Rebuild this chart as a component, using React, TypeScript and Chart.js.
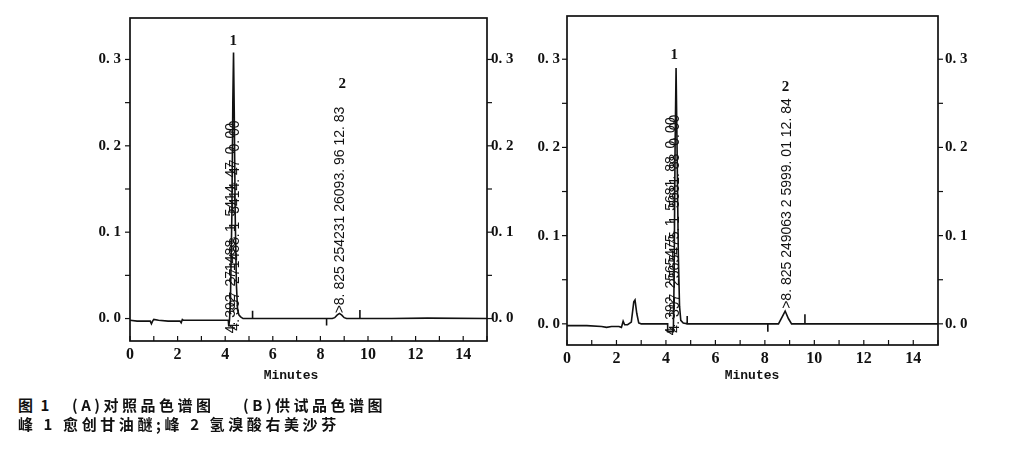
import React, { useEffect, useRef } from 'react';
import { Chart, registerables } from 'chart.js';
Chart.register(...registerables);

// ---- axis ticks ----
const X_LABEL_TICKS = [0, 2, 4, 6, 8, 10, 12, 14];
const X_MINOR_TICKS = [0, 1, 2, 3, 4, 5, 6, 7, 8, 9, 10, 11, 12, 13, 14, 15];
const Y_LABEL_TICKS = [0, 0.1, 0.2, 0.3];
const Y_MINOR_TICKS = [0, 0.05, 0.1, 0.15, 0.2, 0.25, 0.3];

// ---- panel A: reference standard chromatogram (minutes, AU) ----
const timeA = [
  0, 0.3, 0.6, 0.85, 0.9, 0.95, 1.0, 1.2, 1.6, 2.1, 2.15, 2.2, 2.25, 2.8, 3.5, 4.1,
  4.13, 4.15, 4.18, 4.22, 4.28, 4.32, 4.35, 4.38, 4.42, 4.47, 4.52, 4.58, 4.65, 4.75,
  5.0, 5.15, 5.15, 5.15, 6.0, 7.0, 8.26, 8.26, 8.26, 8.5, 8.6, 8.7, 8.8, 8.9, 9.0, 9.1,
  9.66, 9.66, 9.66, 11.0, 12.5, 15.0,
];
const signalA = [
  -0.002, -0.003, -0.003, -0.003, -0.006, -0.003, -0.001, -0.002, -0.003, -0.003, -0.005, -0.001, -0.002, -0.002, -0.002, -0.002,
  -0.002, -0.009, -0.002, 0.02, 0.12, 0.25, 0.308, 0.24, 0.12, 0.04, 0.01, 0.004, 0.002, 0.0,
  0.0, 0.0, 0.009, 0.0, 0.0, 0.0, 0.0, -0.008, 0.0, 0.0, 0.001, 0.004, 0.006, 0.004, 0.001, 0.0,
  0.0, 0.01, 0.0, 0.0, 0.0005, 0.0,
];

// ---- panel B: sample chromatogram ----
const timeB = [
  0, 0.8, 1.4, 1.6, 1.8, 2.1, 2.2, 2.27, 2.33, 2.45, 2.6, 2.7, 2.75, 2.82, 2.9, 3.0, 3.5,
  4.07, 4.07, 4.3, 4.33, 4.37, 4.41, 4.45, 4.5, 4.55, 4.6, 4.7, 4.86, 4.86, 4.86, 6.0,
  8.12, 8.12, 8.12, 8.55, 8.7, 8.82, 8.95, 9.08, 9.62, 9.62, 9.62, 12.0, 15.0,
];
const signalB = [
  -0.002, -0.002, -0.003, -0.004, -0.003, -0.003, -0.004, 0.003, -0.001, -0.001, 0.002, 0.025, 0.027, 0.012, 0.001, 0.0, 0.0,
  0.0, -0.009, -0.009, 0.05, 0.2, 0.29, 0.2, 0.08, 0.02, 0.004, 0.001, 0.0, 0.009, 0.0, 0.0,
  0.0, -0.009, 0.0, 0.0, 0.008, 0.0145, 0.006, 0.0, 0.0, 0.011, 0.0, 0.0, 0.0,
];

// ---- peak annotations: [time, value, text, rotated, dx(px)] ----
const notesA: [number, number, string, boolean, number][] = [
  [4.34, 0.321, '1', false, 0],
  [4.34, -0.017, '4. 392  271488. 1  5414. 47  0. 00', true, -2],
  [4.34, -0.014, '4. 397  271488. 1  5414. 47  0. 00', true, 2],
  [8.92, 0.272, '2', false, 0],
  [8.85, 0.006, '>8. 825 254231 26093. 96 12. 83', true, 0],
];
const notesB: [number, number, string, boolean, number][] = [
  [4.34, 0.305, '1', false, 0],
  [4.3, -0.013, '4. 392  2565475. 1  5681. 88  0. 00', true, -2],
  [4.3, -0.010, '4. 397  2565475. 1  5681. 88  0. 00', true, 2],
  [8.83, 0.268, '2', false, 0],
  [8.9, 0.017, '>8. 825 249063 2 5999. 01 12. 84', true, 0],
];

const Y_MIN_A = -0.026, Y_MAX_A = 0.348;
const Y_MIN_B = -0.024, Y_MAX_B = 0.349;

const framePlugin = {
  id: 'frame',
  afterDraw(chart: any, _args: any, opts: any) {
    const { ctx, chartArea: a, scales } = chart;
    const xs = scales.x, ys = scales.y;
    ctx.save();
    ctx.strokeStyle = '#111';
    ctx.fillStyle = '#111';
    ctx.lineWidth = 1.7;
    ctx.strokeRect(a.left, a.top, a.right - a.left, a.bottom - a.top);
    ctx.lineWidth = 1.2;
    const seg = (x1: number, y1: number, x2: number, y2: number) => {
      ctx.beginPath(); ctx.moveTo(x1, y1); ctx.lineTo(x2, y2); ctx.stroke();
    };
    Y_MINOR_TICKS.forEach((v) => {
      const py = ys.getPixelForValue(v);
      seg(a.left - 5, py, a.left, py);
      seg(a.right, py, a.right + 5, py);
    });
    X_MINOR_TICKS.forEach((v) => {
      const px = xs.getPixelForValue(v);
      if (px <= a.right + 0.5) seg(px, a.bottom, px, a.bottom - 5);
    });
    (opts.notes || []).forEach((n: [number, number, string, boolean, number]) => {
      const [t, v, text, rot, dx] = n;
      const px = xs.getPixelForValue(t) + dx;
      const py = ys.getPixelForValue(v);
      if (rot) {
        ctx.save();
        ctx.translate(px, py);
        ctx.rotate(-Math.PI / 2);
        ctx.font = '14px "Liberation Sans", Arial, sans-serif';
        ctx.textAlign = 'left';
        ctx.textBaseline = 'middle';
        ctx.fillText(text, 0, 0);
        ctx.restore();
      } else {
        ctx.font = 'bold 15px "Liberation Serif", serif';
        ctx.textAlign = 'center';
        ctx.textBaseline = 'middle';
        ctx.fillText(text, px, py);
      }
    });
    ctx.font = 'bold 13px "Liberation Mono", monospace';
    ctx.textAlign = 'center';
    ctx.textBaseline = 'middle';
    ctx.fillText('Minutes', a.left + opts.minutesDx, a.bottom + opts.minutesDy);
    ctx.restore();
  },
};

function makeConfig(time: number[], signal: number[], notes: any[], yMin: number, yMax: number, p: any) {
  const fmt = (v: number) => v.toFixed(1).replace('.', '. ');
  const yFont = { family: '"Liberation Serif", serif', size: 15, weight: 'bold' as const };
  const xFont = { family: '"Liberation Serif", serif', size: 16, weight: 'bold' as const };
  return {
    type: 'line' as const,
    data: {
      datasets: [
        {
          data: time.map((t, i) => ({ x: t, y: signal[i] })),
          borderColor: '#111',
          borderWidth: 1.6,
          pointRadius: 0,
          tension: 0,
          fill: false,
        },
      ],
    },
    options: {
      animation: false as const,
      responsive: false,
      devicePixelRatio: 1,
      layout: { padding: { top: p.top, left: 0, right: 0, bottom: 0 } },
      plugins: {
        legend: { display: false },
        tooltip: { enabled: false },
        frame: { notes, minutesDx: p.minutesDx, minutesDy: p.minutesDy },
      },
      scales: {
        x: {
          type: 'linear' as const,
          min: 0,
          max: 15,
          grid: { display: false, drawTicks: false },
          border: { display: false },
          afterBuildTicks: (s: any) => { s.ticks = X_LABEL_TICKS.map((v) => ({ value: v })); },
          afterFit: (s: any) => { s.height = p.xH; },
          ticks: { color: '#111', font: xFont, padding: 4, maxRotation: 0, autoSkip: false, callback: (v: any) => String(v) },
        },
        y: {
          position: 'left' as const,
          min: yMin,
          max: yMax,
          grid: { display: false, drawTicks: false },
          border: { display: false },
          afterBuildTicks: (s: any) => { s.ticks = Y_LABEL_TICKS.map((v) => ({ value: v })); },
          afterFit: (s: any) => { s.width = p.yL; },
          ticks: { color: '#111', font: yFont, padding: p.padL, callback: (v: any) => fmt(Number(v)) },
        },
        y2: {
          position: 'right' as const,
          min: yMin,
          max: yMax,
          grid: { display: false, drawTicks: false },
          border: { display: false },
          afterBuildTicks: (s: any) => { s.ticks = Y_LABEL_TICKS.map((v) => ({ value: v })); },
          afterFit: (s: any) => { s.width = p.yR; },
          ticks: { color: '#111', font: yFont, padding: p.padR, callback: (v: any) => fmt(Number(v)) },
        },
      },
    },
    plugins: [framePlugin],
  };
}

function Panel(props: { left: number; width: number; height: number; time: number[]; signal: number[]; notes: any[]; yMin: number; yMax: number; p: any }) {
  const ref = useRef<HTMLCanvasElement | null>(null);
  useEffect(() => {
    if (!ref.current) return;
    const chart = new Chart(ref.current, makeConfig(props.time, props.signal, props.notes, props.yMin, props.yMax, props.p) as any);
    return () => chart.destroy();
  }, []);
  return (
    <canvas
      ref={ref}
      width={props.width}
      height={props.height}
      style={{ position: 'absolute', left: props.left, top: 0, width: props.width, height: props.height }}
    />
  );
}

const cjk = '"Noto Sans CJK SC", sans-serif';

export default function App() {
  return (
    <div style={{ position: 'absolute', left: 0, top: 0, width: 1031, height: 452, background: '#fff', overflow: 'hidden', color: '#111' }}>
      <Panel
        left={80}
        width={460}
        height={395}
        time={timeA}
        signal={signalA}
        notes={notesA}
        yMin={Y_MIN_A}
        yMax={Y_MAX_A}
        p={{ top: 13, yL: 50, yR: 53, xH: 54, padL: 9, padR: 4, minutesDx: 161, minutesDy: 35 }}
      />
      <Panel
        left={515}
        width={485}
        height={395}
        time={timeB}
        signal={signalB}
        notes={notesB}
        yMin={Y_MIN_B}
        yMax={Y_MAX_B}
        p={{ top: 7, yL: 52, yR: 62, xH: 50, padL: 7, padR: 7, minutesDx: 185, minutesDy: 31 }}
      />
      <div style={{ position: 'absolute', left: 18, top: 395, fontFamily: cjk, fontSize: 15, lineHeight: '20px', fontWeight: 700, letterSpacing: 2, whiteSpace: 'nowrap' }}>图 1</div>
      <div style={{ position: 'absolute', left: 72, top: 395, fontFamily: cjk, fontSize: 15, lineHeight: '20px', fontWeight: 700, letterSpacing: 3.5, whiteSpace: 'nowrap' }}>(A)对照品色谱图</div>
      <div style={{ position: 'absolute', left: 243, top: 395, fontFamily: cjk, fontSize: 15, lineHeight: '20px', fontWeight: 700, letterSpacing: 3.5, whiteSpace: 'nowrap' }}>(B)供试品色谱图</div>
      <div style={{ position: 'absolute', left: 18, top: 414, fontFamily: cjk, fontSize: 15, lineHeight: '20px', fontWeight: 700, letterSpacing: 3.6, whiteSpace: 'nowrap' }}>峰 1 愈创甘油醚;峰 2 氢溴酸右美沙芬</div>
    </div>
  );
}
